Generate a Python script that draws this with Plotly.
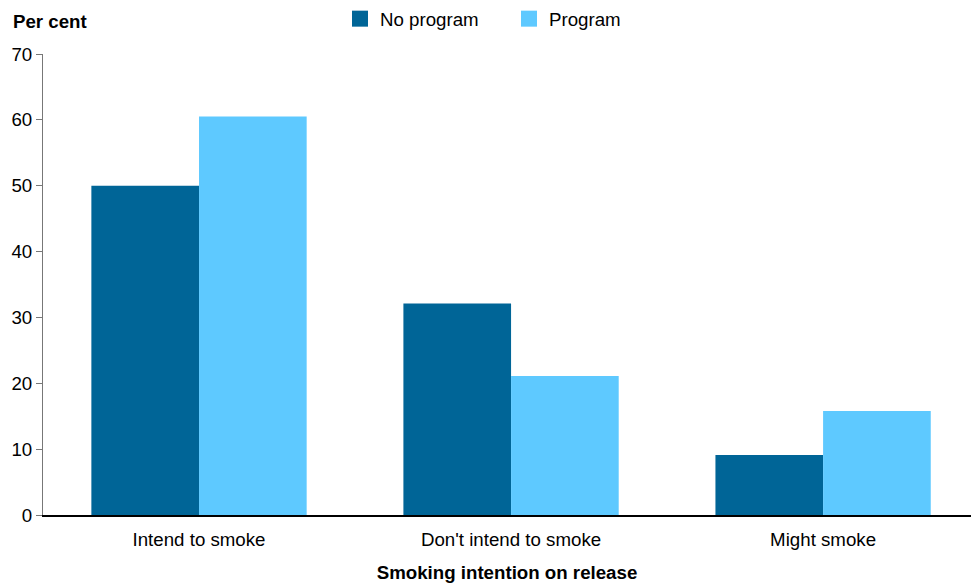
import plotly.graph_objects as go

categories = ["Intend to smoke", "Don't intend to smoke", "Might smoke"]
no_program = [50.0, 32.1, 9.1]
program = [60.5, 21.1, 15.8]
series_names = ["No program", "Program"]
colors = ["#006597", "#5EC9FF"]
y_ticks = [0, 10, 20, 30, 40, 50, 60, 70]

font = "Liberation Sans, Arial, sans-serif"
FS = 18.7

fig = go.Figure()
for name, vals, c in zip(series_names, [no_program, program], colors):
    fig.add_trace(go.Bar(x=categories, y=vals, name=name, marker=dict(color=c, line=dict(width=0)),
                         showlegend=False))
for name, c in zip(series_names, colors):
    fig.add_trace(go.Scatter(x=[None], y=[None], mode="markers", name=name,
                             marker=dict(symbol="square", size=19, color=c)))

fig.update_layout(
    width=971, height=586,
    margin=dict(l=43, r=0, t=54, b=71),
    paper_bgcolor="white", plot_bgcolor="white",
    font=dict(family=font, size=FS, color="black"),
    barmode="group", bargap=0.31, bargroupgap=0.0,
    showlegend=True,
    legend=dict(orientation="h", x=0.5 + 2 / 928, xanchor="center", y=1, yanchor="top",
                yref="container", font=dict(size=FS), itemwidth=30, tracegroupgap=0,
                entrywidth=124, entrywidthmode="pixels"),
    xaxis=dict(range=[-0.5, 2.474], showline=True, linecolor="black", linewidth=2,
               ticks="", showgrid=False, tickfont=dict(size=FS), automargin=False,
               ticklabelstandoff=7,
               title=dict(text="<b>Smoking intention on release</b>", font=dict(size=FS), standoff=16)),
    yaxis=dict(range=[0, 70], tickvals=y_ticks, showline=True, linecolor="#777777", linewidth=1,
               ticks="outside", ticklen=6, tickcolor="#777777", showgrid=False, zeroline=False,
               tickfont=dict(size=FS), automargin=False),
)
fig.add_annotation(text="<b>Per cent</b>", xref="paper", yref="paper", x=-43/928, y=1 + (54 - 22) / 461,
                   xanchor="left", yanchor="middle", showarrow=False, font=dict(size=FS),
                   xshift=11)

fig.write_html("out.html", config={"displayModeBar": False},
               post_script="document.body.style.margin='0';document.body.style.padding='0';")
